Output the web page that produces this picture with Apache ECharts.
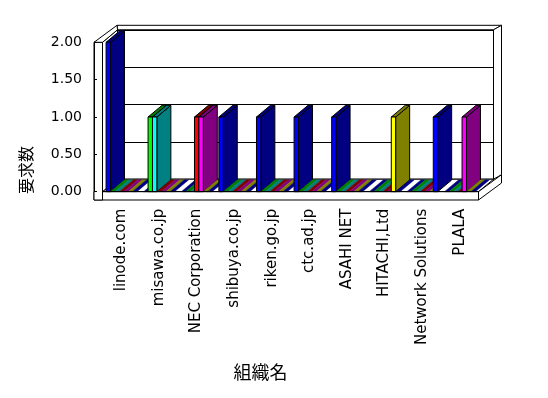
<!DOCTYPE html>
<html>
<head>
<meta charset="utf-8">
<script src="https://cdn.jsdelivr.net/npm/echarts@6/dist/echarts.min.js"></script>
<style>
  html, body { margin: 0; padding: 0; background: #fff; }
  #main { width: 548px; height: 398px; }
</style>
</head>
<body>
<div id="main"></div>
<script>
// 組織名ごとの要求数 (系列は色順)
var categories = ["linode.com", "misawa.co.jp", "NEC Corporation", "shibuya.co.jp", "riken.go.jp",
  "ctc.ad.jp", "ASAHI NET", "HITACHI,Ltd", "Network Solutions", "PLALA"];
var series1 = [2, 0, 0, 1, 1, 1, 1, 0, 0, 0];
var series2 = [0, 1, 0, 0, 0, 0, 0, 0, 0, 0];
var series3 = [0, 1, 0, 0, 0, 0, 0, 0, 0, 0];
var series4 = [0, 0, 1, 0, 0, 0, 0, 0, 0, 0];
var series5 = [0, 0, 1, 0, 0, 0, 0, 0, 0, 1];
var series6 = [0, 0, 0, 0, 0, 0, 0, 1, 0, 0];
var series7 = [0, 0, 0, 0, 0, 0, 0, 0, 1, 0];
var yMin = 0, yMax = 2, yStep = 0.5;

var allSeries = [series1, series2, series3, series4, series5, series6, series7];
var frontColors = ["#0000ff", "#00ff00", "#00ffff", "#ff0000", "#ff00ff", "#ffff00", "#0000ff"];
var darkColors = ["#000080", "#008000", "#008080", "#800000", "#800080", "#808000", "#000080"];

// 3D look
var DX = 15, DY = -12.5;        // depth of the floor / walls
var BDX = 14, BDY = -11.7;      // depth of a bar
var WALL = 8.5, FLOOR = 8.3;    // wall and floor thickness
var TX = 8, TY = -4.5;          // back wall thickness
var OFF = 0.095, STEP = 0.117;  // slot position inside a category

var gL = 102.5, gT = 42.3, gW = 376, gH = 149.4;

// flatten in drawing order: category, then slot
var barData = [];
for (var c = 0; c < categories.length; c++) {
  for (var s = 0; s < allSeries.length; s++) {
    barData.push([c, allSeries[s][c], s]);
  }
}

var black = { fill: "#fff", stroke: "#000", lineWidth: 1 };

function poly(pts, style) {
  return { type: "polygon", shape: { points: pts }, style: style };
}

function renderFrame(params, api) {
  var cs = params.coordSys;
  var L = cs.x, R = cs.x + cs.width, T = cs.y, B = cs.y + cs.height;
  return {
    type: "group",
    children: [
      // back wall thickness
      poly([[L + DX, T + DY], [R + DX, T + DY], [R + DX + TX, T + DY + TY], [L - WALL + DX + TX, T + DY + TY]], black),
      poly([[R + DX, T + DY], [R + DX + TX, T + DY + TY], [R + DX + TX, B + DY + TY], [R + DX, B + DY]], black),
      // floor
      poly([[L, B], [R, B], [R + DX, B + DY], [L + DX, B + DY]], black),
      poly([[R, B], [R + DX + TX, B + DY + TY], [R + DX + TX, B + DY + TY + FLOOR], [R, B + FLOOR]], black),
      poly([[L - WALL, B], [R, B], [R, B + FLOOR], [L - WALL, B + FLOOR]], black),
      // left wall
      poly([[L, T], [L + DX, T + DY], [L + DX, B + DY], [L, B]], black),
      poly([[L - WALL, T], [L, T], [L, B + FLOOR], [L - WALL, B + FLOOR]], black),
      poly([[L - WALL, T], [L, T], [L + DX, T + DY], [L - WALL + DX + TX, T + DY + TY]], black)
    ]
  };
}

function renderBar(params, api) {
  var cat = api.value(0), v = api.value(1), slot = api.value(2);
  var catW = api.size([1, 0])[0];
  var base = api.coord([cat, 0]);
  var top = api.coord([cat, v]);
  var x0 = base[0] - catW / 2 + catW * (OFF + STEP * slot);
  var w = catW * STEP;
  var y0 = base[1], y1 = top[1];
  var dark = darkColors[slot], front = frontColors[slot];
  var topFace = [[x0, y1], [x0 + w, y1], [x0 + w + BDX, y1 + BDY], [x0 + BDX, y1 + BDY]];
  if (v === 0) {
    return poly(topFace, { fill: dark, stroke: dark, lineWidth: 0.5 });
  }
  return {
    type: "group",
    children: [
      poly([[x0 + w, y1], [x0 + w + BDX, y1 + BDY], [x0 + w + BDX, y0 + BDY], [x0 + w, y0]],
        { fill: dark, stroke: "#000", lineWidth: 1 }),
      poly(topFace, { fill: dark, stroke: "#000", lineWidth: 1 }),
      { type: "rect", shape: { x: x0, y: y1, width: w, height: y0 - y1 },
        style: { fill: front, stroke: "#000", lineWidth: 1 } }
    ]
  };
}

var chart = echarts.init(document.getElementById("main"));
chart.setOption({
  backgroundColor: "#fff",
  animation: false,
  grid: [
    { left: gL, top: gT, width: gW, height: gH, show: false, outerBoundsMode: "none" },
    { left: gL + DX, top: gT + DY, width: gW, height: gH, show: true,
      backgroundColor: "#fff", borderColor: "#000", borderWidth: 1, outerBoundsMode: "none" }
  ],
  xAxis: [
    {
      gridIndex: 0, type: "category", data: categories, z: 3,
      axisLine: { lineStyle: { color: "#000", width: 1 } },
      axisTick: { length: FLOOR, lineStyle: { color: "#000" } },
      axisLabel: { rotate: 90, margin: 17, color: "#000", fontFamily: "DejaVu Sans", fontSize: 15 },
      name: "組織名", nameLocation: "middle", nameGap: 171,
      nameTextStyle: { color: "#000", fontFamily: "Noto Sans CJK JP", fontSize: 18, padding: [0, 60, 0, 0] }
    },
    {
      gridIndex: 1, type: "category", data: categories,
      axisLine: { show: false }, axisTick: { show: false }, axisLabel: { show: false }
    }
  ],
  yAxis: [
    {
      gridIndex: 0, type: "value", min: yMin, max: yMax, interval: yStep, offset: WALL, z: 3,
      axisLine: { show: true, lineStyle: { color: "#000", width: 1 } },
      axisTick: { show: true, inside: true, length: 3, lineStyle: { color: "#000" } },
      splitLine: { show: false },
      axisLabel: {
        margin: 12, color: "#000", fontFamily: "DejaVu Sans", fontSize: 14,
        formatter: function (v) { return v.toFixed(2); }
      },
      name: "要求数", nameLocation: "middle", nameGap: 60,
      nameTextStyle: { color: "#000", fontFamily: "Noto Sans CJK JP", fontSize: 16, padding: [0, 106, 0, 0] }
    },
    {
      gridIndex: 1, type: "value", min: yMin, max: yMax, interval: yStep,
      axisLine: { show: false }, axisTick: { show: false }, axisLabel: { show: false },
      splitLine: { show: true, lineStyle: { color: "#000", width: 1 } }
    }
  ],
  series: [
    { type: "custom", xAxisIndex: 0, yAxisIndex: 0, z: 1, silent: true,
      renderItem: renderFrame, data: [[0, 0]] },
    { type: "custom", xAxisIndex: 0, yAxisIndex: 0, z: 2,
      renderItem: renderBar, encode: { x: 0, y: 1 }, data: barData }
  ]
});
</script>
</body>
</html>
